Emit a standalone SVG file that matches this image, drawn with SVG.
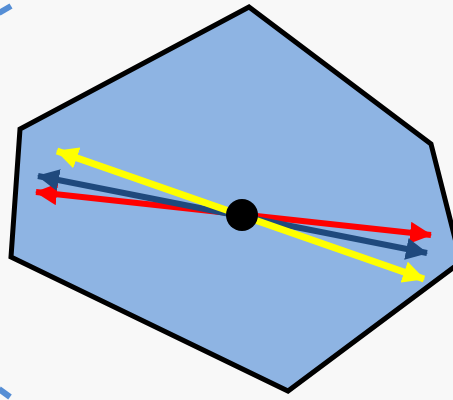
<svg xmlns="http://www.w3.org/2000/svg" width="453" height="400" viewBox="0 0 453 400">
<style>
.bg{fill:#f8f8f8}
.hex{fill:#8EB4E3;stroke:#000;stroke-width:5;stroke-linejoin:miter}
.mark{stroke:#558ED5;stroke-width:6;fill:none}
.arr{fill:none}
</style>
<defs>
<marker id="hY" markerUnits="userSpaceOnUse" viewBox="0 0 22 22" refX="21" refY="11" markerWidth="22" markerHeight="22" orient="auto-start-reverse"><path d="M0,0 L22,11 L0,22 Z" fill="#FFFF00"/></marker>
<marker id="hB" markerUnits="userSpaceOnUse" viewBox="0 0 22 22" refX="21" refY="11" markerWidth="22" markerHeight="22" orient="auto-start-reverse"><path d="M0,0 L22,11 L0,22 Z" fill="#1F497D"/></marker>
<marker id="hR" markerUnits="userSpaceOnUse" viewBox="0 0 22 22" refX="21" refY="11" markerWidth="22" markerHeight="22" orient="auto-start-reverse"><path d="M0,0 L22,11 L0,22 Z" fill="#FF0000"/></marker>
</defs>
<rect class="bg" x="0" y="0" width="453" height="400"/>
<line class="mark" x1="-1" y1="13" x2="11" y2="6"/>
<line class="mark" x1="-1" y1="389" x2="10" y2="397"/>
<g id="hexagon">
<polygon class="hex" points="249,7 431,144 461,262 288,391 11,257 20,129"/>
</g>
<g id="connectors">
<line class="arr" x1="36" y1="192" x2="431" y2="235" stroke="#FF0000" stroke-width="6" marker-start="url(#hR)" marker-end="url(#hR)"/>
<line class="arr" x1="38" y1="176" x2="427" y2="253" stroke="#1F497D" stroke-width="6" marker-start="url(#hB)" marker-end="url(#hB)"/>
<line class="arr" x1="57" y1="151" x2="424" y2="279" stroke="#FFFF00" stroke-width="7" marker-start="url(#hY)" marker-end="url(#hY)"/>
</g>
<g id="center">
<circle cx="242" cy="215" r="16" fill="#000"/>
</g>
</svg>
